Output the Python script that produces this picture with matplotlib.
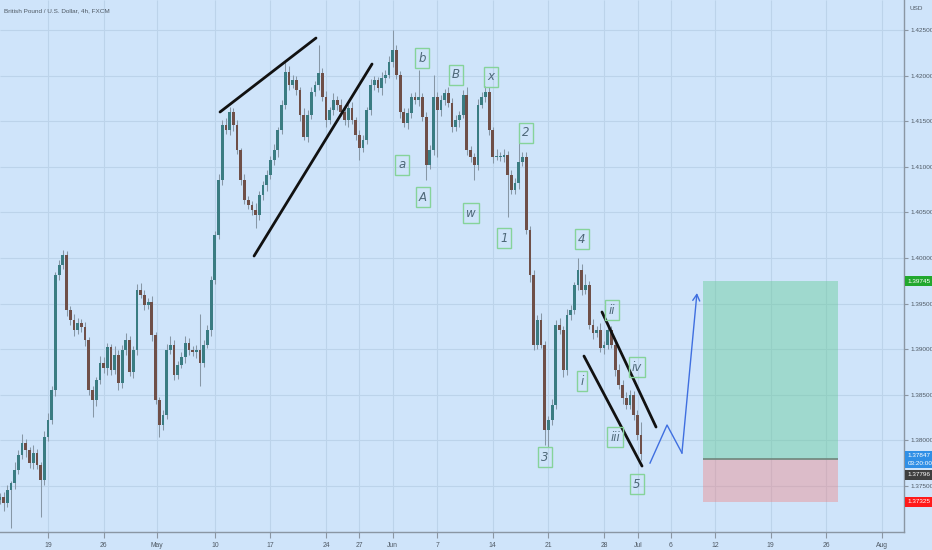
import matplotlib
matplotlib.use('Agg')
import matplotlib.pyplot as plt
import matplotlib.transforms as mtransforms
from matplotlib.patches import Rectangle
import numpy as np

# ---------------- data (GBP/USD, FXCM) ----------------
first_open = 1.3735
closes = [
    1.3738, 1.3731, 1.3746, 1.3753, 1.3768, 1.3784, 1.3797, 1.3789, 1.3775, 1.3786,
    1.3773, 1.3757, 1.3804, 1.3822, 1.3855, 1.3981, 1.3992, 1.4003, 1.3943, 1.3932,
    1.3921, 1.3929, 1.3924, 1.3910, 1.3855, 1.3844, 1.3866, 1.3885, 1.3879, 1.3902,
    1.3877, 1.3894, 1.3863, 1.3899, 1.3910, 1.3875, 1.3899, 1.3965, 1.3960, 1.3949,
    1.3952, 1.3916, 1.3844, 1.3817, 1.3828, 1.3899, 1.3905, 1.3872, 1.3883, 1.3891,
    1.3907, 1.3899, 1.3897, 1.3899, 1.3885, 1.3905, 1.3921, 1.3976, 1.4025, 1.4086,
    1.4146, 1.4140, 1.4160, 1.4146, 1.4118, 1.4086, 1.4064, 1.4058, 1.4053, 1.4047,
    1.4069, 1.4080, 1.4091, 1.4107, 1.4118, 1.4140, 1.4168, 1.4204, 1.4190, 1.4195,
    1.4184, 1.4157, 1.4133, 1.4157, 1.4182, 1.4190, 1.4203, 1.4177, 1.4151, 1.4162,
    1.4173, 1.4168, 1.4160, 1.4151, 1.4164, 1.4151, 1.4135, 1.4121, 1.4129, 1.4162,
    1.4190, 1.4195, 1.4186, 1.4197, 1.4201, 1.4215, 1.4228, 1.4201, 1.4160, 1.4148,
    1.4159, 1.4177, 1.4173, 1.4177, 1.4155, 1.4102, 1.4118, 1.4177, 1.4162, 1.4173,
    1.4181, 1.4170, 1.4144, 1.4151, 1.4157, 1.4179, 1.4118, 1.4111, 1.4102, 1.4168,
    1.4177, 1.4182, 1.4140, 1.4111, 1.4111, 1.4111, 1.4113, 1.4091, 1.4075, 1.4082,
    1.4105, 1.4111, 1.4031, 1.3981, 1.3905, 1.3932, 1.3905, 1.3811, 1.3822, 1.3839,
    1.3927, 1.3921, 1.3877, 1.3938, 1.3943, 1.3970, 1.3987, 1.3965, 1.3970, 1.3927,
    1.3918, 1.3921, 1.3901, 1.3905, 1.3921, 1.3905, 1.3877, 1.3861, 1.3847, 1.3839,
    1.3850, 1.3828, 1.3806, 1.3785,
]
upper_wick_pips = [
    4, 6, 5, 3, 8, 6, 10, 5, 4, 9,
    5, 3, 6, 8, 5, 4, 6, 6, 5, 4,
    7, 5, 4, 6, 3, 5, 4, 8, 6, 5,
    4, 9, 5, 6, 8, 4, 5, 6, 8, 5,
    4, 6, 3, 4, 5, 7, 10, 5, 4, 6,
    8, 5, 4, 6, 40, 5, 6, 4, 5, 6,
    5, 8, 6, 4, 5, 3, 6, 4, 5, 7,
    5, 4, 6, 5, 7, 4, 5, 11, 6, 6,
    5, 4, 7, 5, 6, 4, 31, 5, 6, 4,
    8, 5, 6, 4, 5, 7, 4, 5, 6, 4,
    6, 5, 4, 7, 5, 6, 22, 6, 4, 5,
    6, 4, 5, 29, 4, 5, 6, 24, 5, 6,
    4, 7, 5, 6, 4, 5, 8, 5, 4, 6,
    5, 7, 6, 4, 8, 5, 6, 4, 5, 6,
    35, 5, 5, 4, 6, 5, 8, 4, 5, 6,
    5, 7, 4, 6, 5, 4, 13, 6, 13, 5,
    6, 5, 8, 4, 6, 5, 4, 7, 5, 6,
    5, 4, 5, 14,
]
lower_wick_pips = [
    5, 8, 4, 42, 6, 5, 4, 7, 5, 6,
    4, 41, 6, 5, 4, 6, 5, 4, 7, 5,
    6, 4, 5, 7, 5, 18, 6, 4, 5, 7,
    5, 4, 8, 6, 5, 4, 7, 5, 4, 6,
    5, 7, 4, 13, 6, 5, 4, 6, 5, 4,
    6, 5, 4, 7, 25, 5, 4, 6, 5, 4,
    6, 4, 5, 7, 4, 6, 5, 4, 6, 14,
    5, 5, 6, 4, 5, 7, 4, 5, 6, 4,
    5, 7, 4, 6, 5, 4, 6, 5, 7, 4,
    5, 6, 4, 5, 7, 4, 6, 14, 5, 4,
    5, 6, 4, 7, 5, 4, 6, 5, 6, 4,
    7, 5, 4, 6, 5, 16, 4, 5, 51, 6,
    5, 4, 6, 5, 7, 4, 5, 6, 16, 5,
    4, 6, 5, 7, 4, 5, 6, 46, 5, 5,
    6, 4, 5, 7, 6, 5, 4, 16, 18, 5,
    5, 4, 7, 5, 6, 4, 5, 6, 4, 5,
    7, 5, 4, 6, 5, 4, 6, 5, 7, 4,
    5, 6, 5, 6,
]

# date axis (trading days since Mon 19 Apr)
date_tick_days = [0, 5, 9.8, 15, 20, 25, 28, 31, 35, 40, 45, 50, 53.06, 56, 60, 65, 70, 75]
date_tick_labels = ['19', '26', 'May', '10', '17', '24', '27', 'Jun', '7', '14', '21', '28',
                    'Jul', '6', '12', '19', '26', 'Aug']
price_ticks = [1.375, 1.380, 1.385, 1.390, 1.395, 1.400, 1.405, 1.410, 1.415, 1.420, 1.425]

# long position tool
entry_price = 1.37796
target_price = 1.39745
stop_price = 1.37325
pos_start_day, pos_end_day = 58.9, 71.04
last_price = 1.37847

# drawings (day, price)
trend_lines = [
    [(15.47, 1.41601), (24.10, 1.42412)],
    [(18.53, 1.40022), (29.14, 1.42127)],
    [(48.20, 1.38925), (53.42, 1.37719)],
    [(49.82, 1.39408), (54.68, 1.38147)],
]
projection_days = [54.14, 55.67, 57.01, 58.36]
projection_prices = [1.37752, 1.38169, 1.37862, 1.39616]

wave_labels = ['a', 'b', 'A', 'B', 'x', 'w', '2', '1', '4', '3', 'i', 'ii', 'iv', 'iii', '5']
wave_days = [31.83, 33.63, 33.72, 36.69, 39.84, 38.04, 42.99, 41.01, 48.02, 44.69,
             48.02, 50.72, 52.97, 50.99, 52.97]
wave_prices = [1.41020, 1.42193, 1.40669, 1.42007, 1.41985, 1.40493, 1.41371, 1.40219,
               1.40208, 1.37818, 1.38651, 1.39430, 1.38805, 1.38037, 1.37522]

# ---------------- style ----------------
BG = '#cfe4fa'
GRID = '#bcd3ea'
AXC = '#8a96a3'
TXT = '#4f5964'
plt.rcParams['font.family'] = ['Liberation Sans', 'DejaVu Sans']
FS = 4.6

fig = plt.figure(figsize=(9.32, 5.5), dpi=100, facecolor=BG)
ax = fig.add_axes([0, 18 / 550, 904 / 932, 532 / 550], facecolor=BG)

xmin, xmax = -4.317, 76.98
ymin, ymax = 1.36996, 1.42829
ax.set_xlim(xmin, xmax)
ax.set_ylim(ymin, ymax)

# grid
ax.hlines(price_ticks, xmin, xmax, color=GRID, lw=0.8, zorder=0)
ax.vlines(date_tick_days, ymin, ymax, color=GRID, lw=0.8, zorder=0)

# candles
n = len(closes)
xs = -4.33 + np.arange(n) / 3.0
c = np.array(closes)
o = np.array([first_open] + closes[:-1])
hi = np.maximum(o, c) + np.array(upper_wick_pips) * 1e-4
lo = np.minimum(o, c) - np.array(lower_wick_pips) * 1e-4
up = c >= o
bot = np.minimum(o, c)
h = np.maximum(np.abs(c - o), 0.00006)
ax.vlines(xs, lo, hi, color='#8797a6', lw=0.75, zorder=2)
ax.bar(xs[up], h[up], bottom=bot[up], width=0.25, color='#3a7c82', lw=0, zorder=3)
ax.bar(xs[~up], h[~up], bottom=bot[~up], width=0.25, color='#6f4f48', lw=0, zorder=3)

# position tool
w = pos_end_day - pos_start_day
ax.add_patch(Rectangle((pos_start_day, entry_price), w, target_price - entry_price,
                       fc='#66cc99', alpha=0.45, lw=0, zorder=1))
ax.add_patch(Rectangle((pos_start_day, stop_price), w, entry_price - stop_price,
                       fc='#f08080', alpha=0.4, lw=0, zorder=1))
ax.hlines(entry_price, pos_start_day, pos_end_day, color='#6f857c', lw=1.2, zorder=2)

# trend lines
for (x0, y0), (x1, y1) in trend_lines:
    ax.plot([x0, x1], [y0, y1], color='#111111', lw=2.0, solid_capstyle='round', zorder=5)

# projection path
ax.plot(projection_days[:-1], projection_prices[:-1], color='#3f6fe0', lw=1.0, zorder=5)
ax.annotate('', xy=(projection_days[-1], projection_prices[-1]),
            xytext=(projection_days[-2], projection_prices[-2]),
            arrowprops=dict(arrowstyle='->,head_length=0.45,head_width=0.25',
                            color='#3f6fe0', lw=1.0, shrinkA=0, shrinkB=0), zorder=5)

# wave labels
for s, d, p in zip(wave_labels, wave_days, wave_prices):
    ax.text(d, p, s, fontsize=8.5, style='italic', color='#4e6878', ha='center', va='center',
            family=['DejaVu Sans'], zorder=6,
            bbox=dict(boxstyle='square,pad=0.28', fc='none', ec='#86d39a', lw=1.0))

# axes styling
for sp in ['top', 'left']:
    ax.spines[sp].set_visible(False)
ax.spines['right'].set_color(AXC)
ax.spines['bottom'].set_color(AXC)
ax.spines['right'].set_linewidth(1.0)
ax.spines['bottom'].set_linewidth(1.0)
ax.yaxis.tick_right()
ax.set_yticks(price_ticks)
ax.set_yticklabels([f'{p:.5f}' for p in price_ticks])
ax.tick_params(axis='y', length=3, width=0.8, color=AXC, labelsize=FS, labelcolor=TXT, pad=1.5)
ax.set_xticks(date_tick_days)
ax.set_xticklabels(date_tick_labels)
ax.tick_params(axis='x', length=4, width=0.8, color=AXC, labelsize=FS + 0.3, labelcolor=TXT, pad=3)

# price badges on the right axis
yt = mtransforms.blended_transform_factory(ax.transAxes, ax.transData)
def badge(price, text, fc, y=None):
    ax.text(1.004, price if y is None else y, text, transform=yt, ha='left', va='center',
            fontsize=FS, color='white', clip_on=False, zorder=10, linespacing=1.6,
            bbox=dict(boxstyle='square,pad=0.4', fc=fc, ec='none'))

badge(target_price, f'{target_price:.5f}', '#22a82e')
badge(last_price, f'{last_price:.5f}\n03:20:00', '#2f8fe6', y=1.37790)
badge(entry_price, f'{entry_price:.5f}', '#3f3f3f', y=1.37625)
badge(stop_price, f'{stop_price:.5f}', '#ff1a1a')

fig.text(916 / 932, 1 - 9 / 550, 'USD', ha='center', va='center', fontsize=FS, color=TXT)
fig.text(4 / 932, 1 - 11 / 550, 'British Pound / U.S. Dollar, 4h, FXCM', ha='left',
         va='center', fontsize=FS, color=TXT)

fig.savefig('out.png', dpi=100, facecolor=BG)
